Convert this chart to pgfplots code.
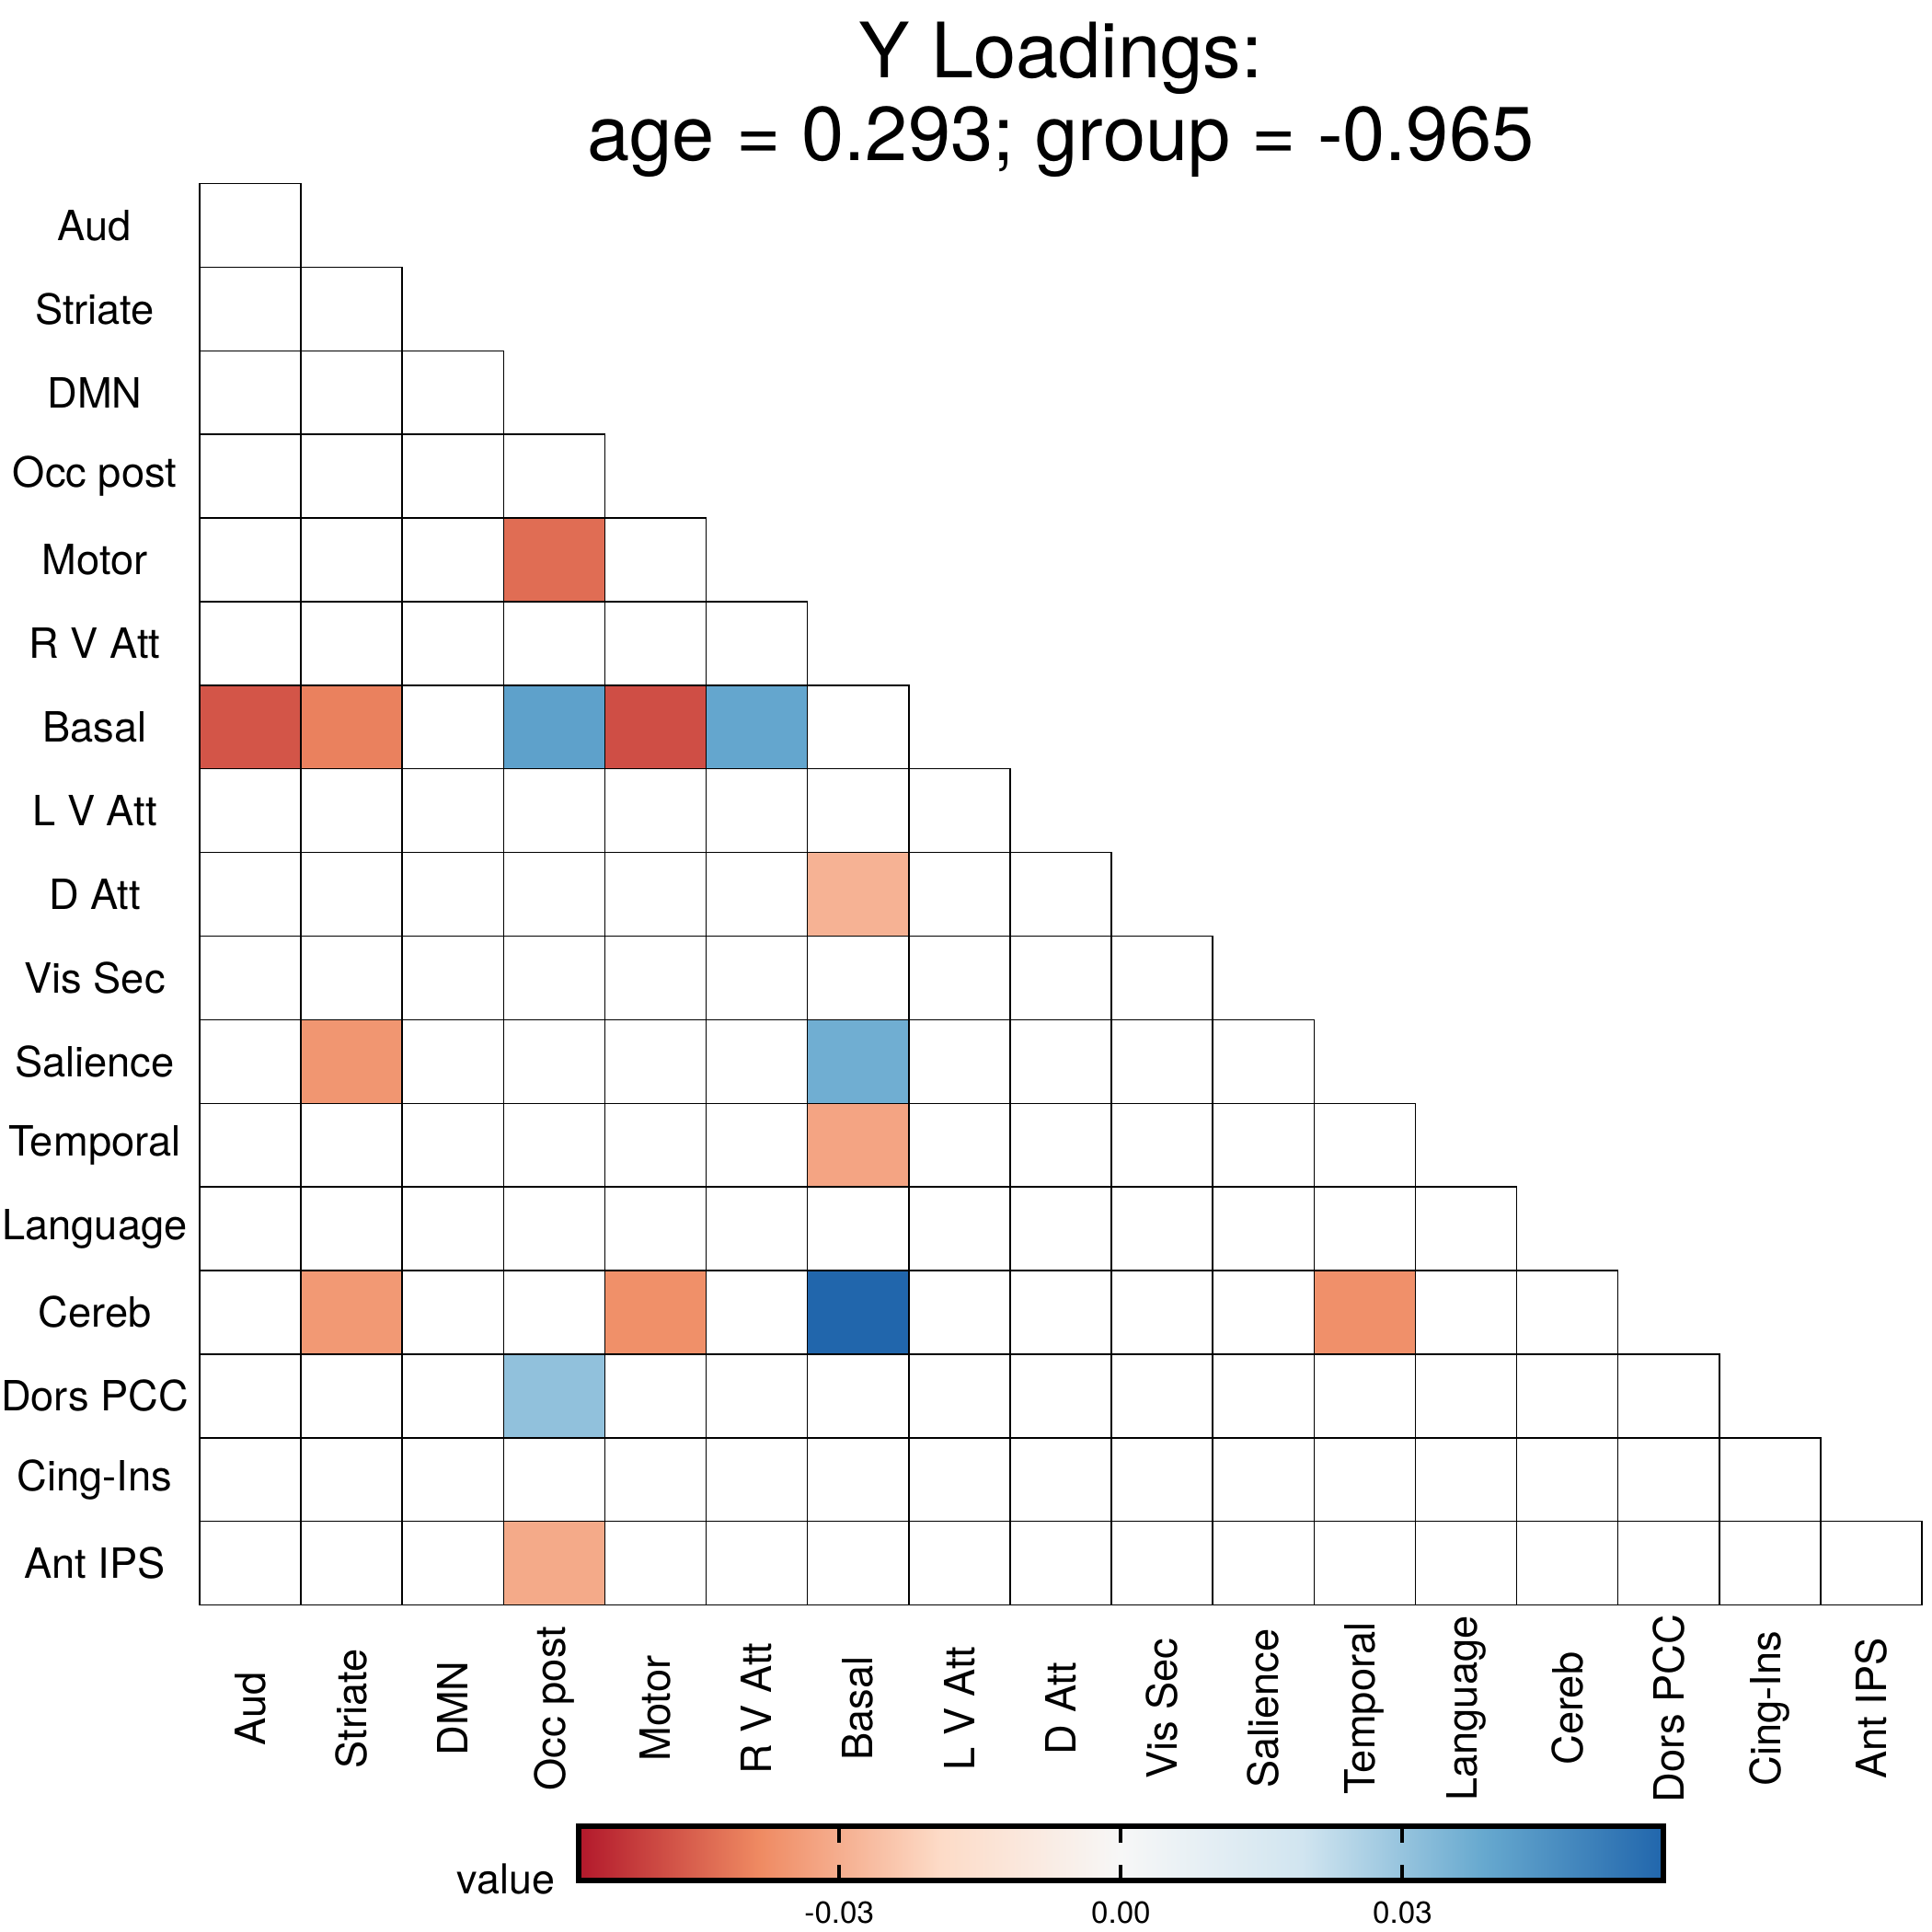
\documentclass[border=0pt]{standalone}
\usepackage{fontspec}
\setmainfont{TeX Gyre Heros}
\usepackage{pgfplots}
\pgfplotsset{compat=1.18}
\usetikzlibrary{calc}

\pgfdeclareplotmark{cell}{%
  \pgfpathrectangle{\pgfpoint{-0.466176cm}{-0.384735cm}}{\pgfpoint{0.932353cm}{0.769471cm}}%
  \pgfusepathqfillstroke}

\pgfplotsset{
  colormap={rdbu}{rgb255=(178,24,43) rgb255=(239,138,98) rgb255=(253,219,199) rgb255=(247,247,247) rgb255=(209,229,240) rgb255=(103,169,207) rgb255=(33,102,172)},
}

\begin{document}
\begin{tikzpicture}
\begin{axis}[
  at={(0,0)}, anchor=south west,
  scale only axis, width=15.850cm, height=13.081cm,
  xmin=-0.5, xmax=16.5, ymin=-0.5, ymax=16.5,
  clip=false,
  axis line style={draw=none},
  major tick length=0pt,
  xtick={0,...,16}, ytick={0,...,16},
  xticklabels={Aud,Striate,DMN,Occ post,Motor,R V Att,Basal,L V Att,D Att,Vis Sec,Salience,Temporal,Language,Cereb,Dors PCC,Cing-Ins,Ant IPS},
  yticklabels={Ant IPS,Cing-Ins,Dors PCC,Cereb,Language,Temporal,Salience,Vis Sec,D Att,L V Att,Basal,R V Att,Motor,Occ post,DMN,Striate,Aud},
  xticklabel style={font=\fontsize{10.9}{12}\selectfont, yshift=-0.953cm, rotate=90, anchor=center, inner sep=0pt},
  yticklabel style={font=\fontsize{10.9}{12}\selectfont, xshift=-0.965cm, anchor=center, inner sep=0pt},
  colormap name=rdbu,
  point meta min=-0.0578, point meta max=0.0578,
  colorbar horizontal,
  colorbar style={
    at={($(parent axis.south west)+(3.486cm,-2.239cm)$)}, anchor=south west,
    scale only axis, width=9.985cm, height=0.4995cm,
    xtick={-0.03,0,0.03}, xticklabels={-0.03,0.00,0.03},
    ytick=\empty,
    xtick pos=both, xticklabel pos=lower,
    tick align=inside,
    major tick length=0.15cm,
    tick style={black, line width=1pt},
    axis line style={black, line width=1.45pt},
    xticklabel style={font=\fontsize{8}{9}\selectfont, yshift=-0.07cm},
  },
]
% all lower-triangle cells (blank = white)
\addplot[only marks, mark=cell, mark options={fill=white, draw=black, line width=0.35pt}] coordinates {
(0,16)
(0,15)(1,15)
(0,14)(1,14)(2,14)
(0,13)(1,13)(2,13)(3,13)
(0,12)(1,12)(2,12)(3,12)(4,12)
(0,11)(1,11)(2,11)(3,11)(4,11)(5,11)
(0,10)(1,10)(2,10)(3,10)(4,10)(5,10)(6,10)
(0,9)(1,9)(2,9)(3,9)(4,9)(5,9)(6,9)(7,9)
(0,8)(1,8)(2,8)(3,8)(4,8)(5,8)(6,8)(7,8)(8,8)
(0,7)(1,7)(2,7)(3,7)(4,7)(5,7)(6,7)(7,7)(8,7)(9,7)
(0,6)(1,6)(2,6)(3,6)(4,6)(5,6)(6,6)(7,6)(8,6)(9,6)(10,6)
(0,5)(1,5)(2,5)(3,5)(4,5)(5,5)(6,5)(7,5)(8,5)(9,5)(10,5)(11,5)
(0,4)(1,4)(2,4)(3,4)(4,4)(5,4)(6,4)(7,4)(8,4)(9,4)(10,4)(11,4)(12,4)
(0,3)(1,3)(2,3)(3,3)(4,3)(5,3)(6,3)(7,3)(8,3)(9,3)(10,3)(11,3)(12,3)(13,3)
(0,2)(1,2)(2,2)(3,2)(4,2)(5,2)(6,2)(7,2)(8,2)(9,2)(10,2)(11,2)(12,2)(13,2)(14,2)
(0,1)(1,1)(2,1)(3,1)(4,1)(5,1)(6,1)(7,1)(8,1)(9,1)(10,1)(11,1)(12,1)(13,1)(14,1)(15,1)
(0,0)(1,0)(2,0)(3,0)(4,0)(5,0)(6,0)(7,0)(8,0)(9,0)(10,0)(11,0)(12,0)(13,0)(14,0)(15,0)(16,0)
};
% significant loadings
\addplot[scatter, only marks, mark=cell, point meta=explicit,
  scatter/use mapped color={draw=black, fill=mapped color}, line width=0.35pt]
  table[meta=v] {
x y v
3 12 -0.0434
0 10 -0.0475
1 10 -0.0400
3 10 0.0410
4 10 -0.0486
5 10 0.0394
6 8 -0.0290
1 6 -0.0357
6 6 0.0370
6 5 -0.0323
1 3 -0.0350
4 3 -0.0372
6 3 0.0578
11 3 -0.0370
3 2 0.0310
3 0 -0.0310
};
\node[anchor=base, inner sep=0pt, font=\fontsize{20}{21.6}\selectfont] at (axis description cs:0.5,1.0746) {Y Loadings:};
\node[anchor=base, inner sep=0pt, font=\fontsize{20}{21.6}\selectfont] at (axis description cs:0.5,1.0165) {age = 0.293; group = -0.965};
\node[anchor=base east, inner sep=0pt, font=\fontsize{10.8}{12}\selectfont] at (axis description cs:0.2067,-0.2032) {value};
\end{axis}
\pgfresetboundingbox
\useasboundingbox (-1.837cm,-3.006cm) rectangle (15.943cm,14.771cm);
\end{tikzpicture}
\end{document}
